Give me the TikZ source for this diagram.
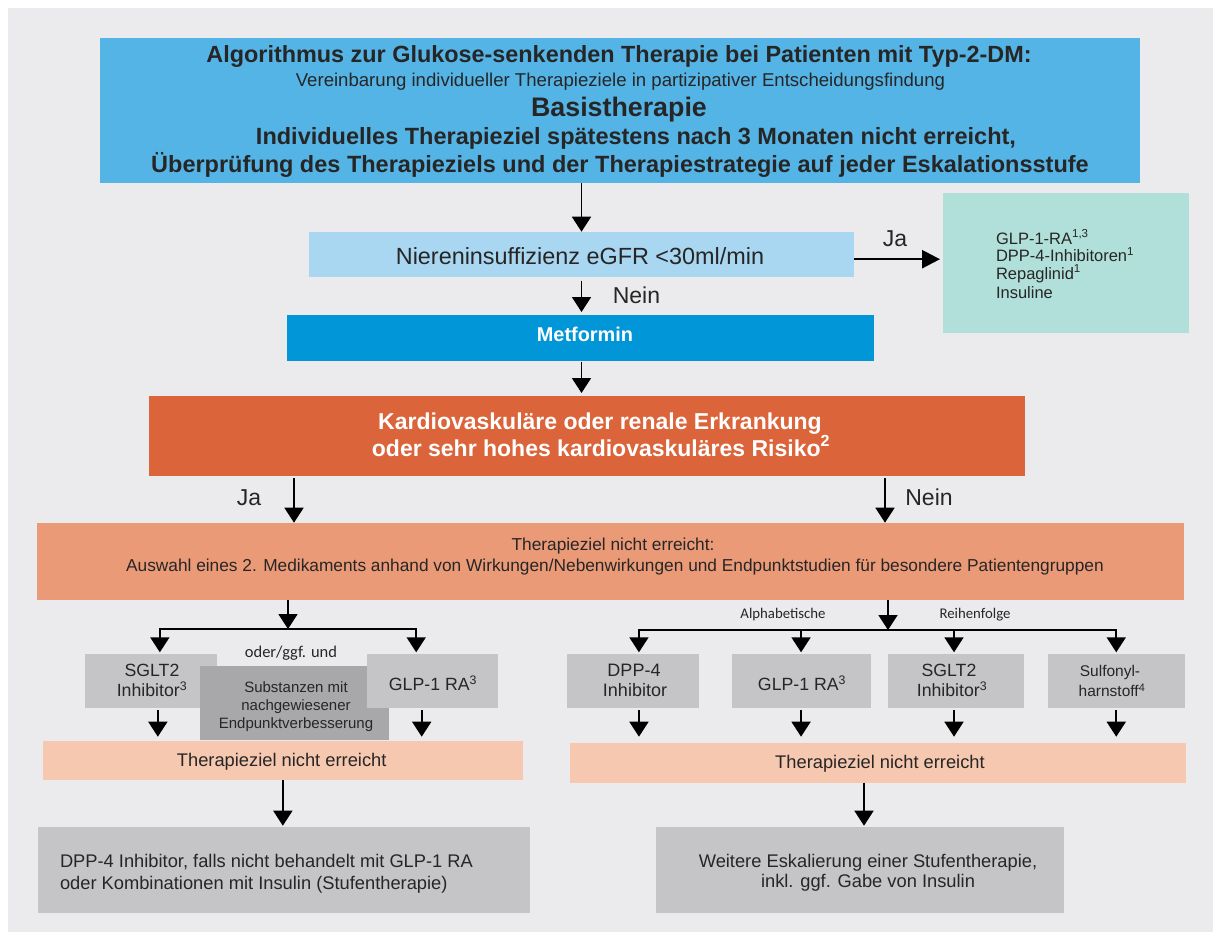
\documentclass[tikz,border=0pt]{standalone}
\usepackage{fontspec}
\setmainfont{Liberation Sans}
\newfontfamily\calibrifont{Carlito}
\usetikzlibrary{arrows.meta,fit}

\definecolor{pagebg}{HTML}{EBEBED}
\definecolor{headblue}{HTML}{55B4E6}
\definecolor{renalblue}{HTML}{A9D6F1}
\definecolor{mint}{HTML}{B1E0DA}
\definecolor{metblue}{HTML}{0096D7}
\definecolor{riskorange}{HTML}{DC643B}
\definecolor{salmon}{HTML}{EB9A78}
\definecolor{peach}{HTML}{F6C8B0}
\definecolor{lightgrey}{HTML}{C5C5C7}
\definecolor{midgrey}{HTML}{A8A8AA}
\definecolor{ink}{HTML}{262626}

\newcommand\fsz[1]{\fontsize{#1pt}{#1pt}\selectfont}

\begin{document}
\begin{tikzpicture}[x=1pt,y=-1pt,
  box/.style={rectangle, inner sep=0pt, outer sep=0pt, draw=none},
  txt/.style={inner sep=0pt, outer sep=0pt, anchor=base, text=ink},
  ltxt/.style={txt, anchor=base west},
  wtxt/.style={txt, text=white, font=\bfseries\fsz{#1}},
  arr/.style={-{Triangle[width=19pt,length=15pt]}, line width=1.8pt, draw=black}
]
\useasboundingbox (0,0) rectangle (1213,932);
\fill[white] (0,0) rectangle (1213,932);
\fill[pagebg] (8,8) rectangle (1213,932);

% ---------- header ----------
\node[box, fill=headblue, fit={(100,38) (1140,183)}] (head) {};
\node[txt, font=\bfseries\fsz{23.4}] (h1) at (619,62.3) {Algorithmus zur Glukose-senkenden Therapie bei Patienten mit Typ-2-DM:};
\node[txt, font=\fsz{18.6}] (h2) at (620.5,86.7) {Vereinbarung individueller Therapieziele in partizipativer Entscheidungsfindung};
\node[txt, font=\bfseries\fsz{26.8}] (h3) at (619,116) {Basistherapie};
\node[txt, font=\bfseries\fsz{23.5}] (h4) at (636,144) {Individuelles Therapieziel spätestens nach 3 Monaten nicht erreicht,};
\node[txt, font=\bfseries\fsz{23.5}] (h5) at (620,172.7) {Überprüfung des Therapieziels und der Therapiestrategie auf jeder Eskalationsstufe};

% ---------- renal check ----------
\node[box, fill=renalblue, fit={(309,231.7) (854,276.7)}] (nier) {};
\node[txt, font=\fsz{23.4}] (niertxt) at (580,264) {Niereninsuffizienz eGFR <30ml/min};

\node[box, fill=mint, fit={(943,192.7) (1188.5,333.3)}] (renal) {};
\node[ltxt, font=\fsz{16.5}] (r1) at (996,244) {GLP-1-RA\textsuperscript{1,3}};
\node[ltxt, font=\fsz{16.5}] (r2) at (996,261.5) {DPP-4-Inhibitoren\textsuperscript{1}};
\node[ltxt, font=\fsz{16.5}] (r3) at (996,279) {Repaglinid\textsuperscript{1}};
\node[ltxt, font=\fsz{16.5}] (r4) at (996,298) {Insuline};

\node[box, fill=metblue, fit={(287,315) (873.6,360.7)}] (met) {};
\node[wtxt=19.9] (mettxt) at (585,341.7) {Metformin};

% ---------- risk question ----------
\node[box, fill=riskorange, fit={(149,396) (1025,476)}] (risk) {};
\node[wtxt=23] (k1) at (600,429.3) {Kardiovaskuläre oder renale Erkrankung};
\node[wtxt=23] (k2) at (601,456) {oder sehr hohes kardiovaskuläres Risiko\textsuperscript{2}};

\node[box, fill=salmon, fit={(37,522.7) (1184,600)}] (second) {};
\node[txt, font=\fsz{17.3}] (s1) at (613,550) {Therapieziel nicht erreicht:};
\node[txt, font=\fsz{17.3}] (s2) at (615,571.7) {Auswahl eines 2. Medikaments anhand von Wirkungen/Nebenwirkungen und Endpunktstudien für besondere Patientengruppen};

% ---------- left branch ----------
\node[box, fill=lightgrey, fit={(85,654.3) (216.7,708.3)}] (sgltL) {};
\node[box, fill=midgrey, fit={(200,666) (389,740)}] (subst) {};
\node[box, fill=lightgrey, fit={(366.7,654.3) (497.7,708.3)}] (glpL) {};
\node[txt, font=\fsz{17.7}] (sgltL1) at (152,676) {SGLT2};
\node[txt, font=\fsz{17.7}] (sgltL2) at (152,696.7) {Inhibitor\textsuperscript{3}};
\node[txt, font=\fsz{15}] (su1) at (296,692.7) {Substanzen mit};
\node[txt, font=\fsz{15}] (su2) at (296,710) {nachgewiesener};
\node[txt, font=\fsz{15}] (su3) at (296,728.3) {Endpunktverbesserung};
\node[txt, font=\fsz{17.7}] (glpL1) at (433,690.7) {GLP-1 RA\textsuperscript{3}};
\node[txt, font=\calibrifont\fsz{16.5}] (oder) at (291,657) {oder/ggf. und};

\node[box, fill=peach, fit={(43,740.7) (522.7,780)}] (tzL) {};
\node[txt, font=\fsz{18.3}] (tzLtxt) at (281.7,766.7) {Therapieziel nicht erreicht};

\node[box, fill=lightgrey, fit={(37.5,826.7) (530,912.7)}] (botL) {};
\node[ltxt, font=\fsz{18.3}] (bl1) at (60,867) {DPP-4 Inhibitor, falls nicht behandelt mit GLP-1 RA};
\node[ltxt, font=\fsz{18.3}] (bl2) at (60,889) {oder Kombinationen mit Insulin (Stufentherapie)};

% ---------- right branch ----------
\node[box, fill=lightgrey, fit={(567.4,654.3) (699.3,708.3)}] (dpp) {};
\node[box, fill=lightgrey, fit={(731.6,654.3) (870.5,708.3)}] (glpR) {};
\node[box, fill=lightgrey, fit={(888,654.3) (1024,708.3)}] (sgltR) {};
\node[box, fill=lightgrey, fit={(1047.5,654.3) (1185,708.3)}] (sulf) {};
\node[txt, font=\fsz{18}] (dpp1) at (634,676) {DPP-4};
\node[txt, font=\fsz{18}] (dpp2) at (635,696.7) {Inhibitor};
\node[txt, font=\fsz{17.7}] (glpR1) at (802,690.7) {GLP-1 RA\textsuperscript{3}};
\node[txt, font=\fsz{17.7}] (sgltR1) at (949,676) {SGLT2};
\node[txt, font=\fsz{17.7}] (sgltR2) at (952,696.7) {Inhibitor\textsuperscript{3}};
\node[txt, font=\fsz{15.5}] (sulf1) at (1110,676) {Sulfonyl-};
\node[txt, font=\fsz{15.5}] (sulf2) at (1112,696.7) {harnstoff\textsuperscript{4}};
\node[txt, font=\calibrifont\fsz{14.8}] (alpha) at (783,618) {Alphabetische};
\node[txt, font=\calibrifont\fsz{14.8}] (order) at (975,618) {Reihenfolge};

\node[box, fill=peach, fit={(570,742.7) (1186,782.7)}] (tzR) {};
\node[txt, font=\fsz{18.3}] (tzRtxt) at (880,768) {Therapieziel nicht erreicht};

\node[box, fill=lightgrey, fit={(656,826.7) (1064,912.7)}] (botR) {};
\node[txt, font=\fsz{18.3}] (br1) at (868,867) {Weitere Eskalierung einer Stufentherapie,};
\node[txt, font=\fsz{18.3}] (br2) at (868,887) {inkl. ggf. Gabe von Insulin};

% ---------- connectors ----------
\draw[arr] (nier.north |- head.south) -- (nier.north);
\draw[arr, shorten <=4pt, shorten >=3pt] (nier.south) -- (nier.south |- met.north);
\draw[arr, line width=2.5pt, -{Triangle[width=18pt,length=18pt]}, shorten >=3pt]
  ([yshift=-5pt]nier.east) -- ([yshift=-5pt]nier.east -| renal.west);
\node[txt, font=\fsz{23}] (yes1) at (895,246.7) {Ja};
\node[txt, font=\fsz{23}] (no1) at (636.5,303.3) {Nein};
\draw[arr, shorten <=1pt, shorten >=3pt] (nier.south |- met.south) -- (nier.south |- risk.north);

\draw[arr, shorten <=2pt] ([xshift=-293pt]risk.south) -- ([xshift=-293pt]risk.south |- second.north);
\draw[arr, shorten <=2pt] ([xshift=298pt]risk.south) -- ([xshift=298pt]risk.south |- second.north);
\node[txt, font=\fsz{23}] (yes2) at (249,505) {Ja};
\node[txt, font=\fsz{23}] (no2) at (929,505) {Nein};

% left fan-out
\coordinate (splitL) at (288,629);
\draw[arr] (second.south -| splitL) -- (splitL);
\draw[arr, shorten >=2pt] (splitL) -| ([xshift=9pt]sgltL.north);
\draw[arr, shorten >=2pt] (splitL) -| ([xshift=-16pt]glpL.north);
\draw[arr, shorten <=2pt, shorten >=4pt] ([xshift=7pt]sgltL.south) -- ([xshift=7pt]sgltL.south |- tzL.north);
\draw[arr, shorten <=2pt, shorten >=4pt] ([xshift=-10.5pt]glpL.south) -- ([xshift=-10.5pt]glpL.south |- tzL.north);
\draw[arr, shorten >=1pt] (tzL.south) -- (tzL.south |- botL.north);

% right fan-out
\coordinate (splitR) at (888,630);
\draw[arr] (second.south -| splitR) -- (splitR);
\draw[arr, shorten >=2pt] (splitR) -| ([xshift=5.6pt]dpp.north);
\draw[arr, shorten >=2pt] (splitR) -| (glpR.north);
\draw[arr, shorten >=2pt] (splitR) -| ([xshift=-2pt]sgltR.north);
\draw[arr, shorten >=2pt] (splitR) -| (sulf.north);
\draw[arr, shorten <=2pt, shorten >=6pt] ([xshift=5.6pt]dpp.south) -- ([xshift=5.6pt]dpp.south |- tzR.north);
\draw[arr, shorten <=2pt, shorten >=6pt] (glpR.south) -- (glpR.south |- tzR.north);
\draw[arr, shorten <=2pt, shorten >=6pt] ([xshift=-2pt]sgltR.south) -- ([xshift=-2pt]sgltR.south |- tzR.north);
\draw[arr, shorten <=2pt, shorten >=6pt] (sulf.south) -- (sulf.south |- tzR.north);
\draw[arr, shorten >=1pt] ([xshift=4pt]botR.north |- tzR.south) -- ([xshift=4pt]botR.north);
\end{tikzpicture}
\end{document}
